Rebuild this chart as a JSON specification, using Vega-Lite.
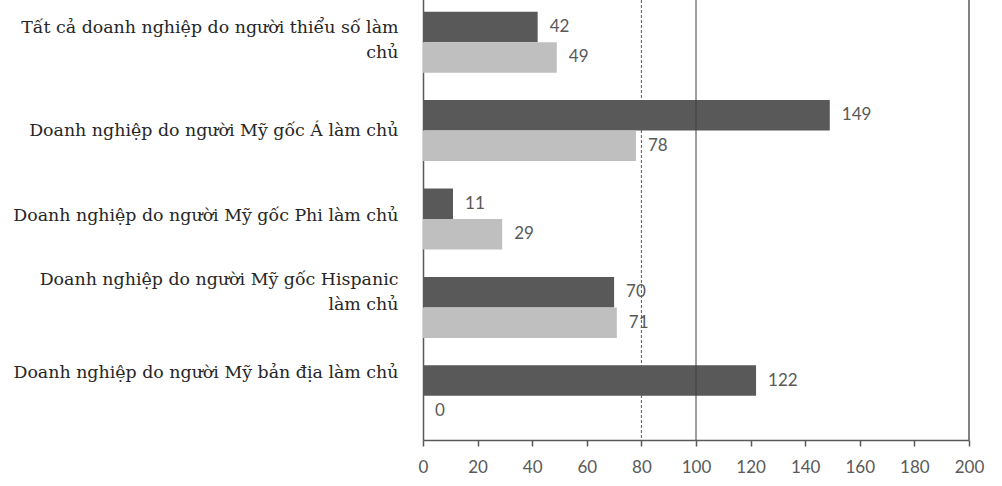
{
  "$schema": "https://vega.github.io/schema/vega-lite/v6.json",
  "width": 546,
  "height": 440,
  "autosize": {"type": "none"},
  "padding": {"left": 423, "top": 0, "right": 33, "bottom": 46},
  "background": "white",
  "config": {"view": {"stroke": null}},
  "datasets": {
    "bars": [
      {"nhom": "Tất cả doanh nghiệp do người thiểu số làm chủ", "chuoi": "Chuỗi 1", "giatri": 42},
      {"nhom": "Tất cả doanh nghiệp do người thiểu số làm chủ", "chuoi": "Chuỗi 2", "giatri": 49},
      {"nhom": "Doanh nghiệp do người Mỹ gốc Á làm chủ", "chuoi": "Chuỗi 1", "giatri": 149},
      {"nhom": "Doanh nghiệp do người Mỹ gốc Á làm chủ", "chuoi": "Chuỗi 2", "giatri": 78},
      {"nhom": "Doanh nghiệp do người Mỹ gốc Phi làm chủ", "chuoi": "Chuỗi 1", "giatri": 11},
      {"nhom": "Doanh nghiệp do người Mỹ gốc Phi làm chủ", "chuoi": "Chuỗi 2", "giatri": 29},
      {"nhom": "Doanh nghiệp do người Mỹ gốc Hispanic làm chủ", "chuoi": "Chuỗi 1", "giatri": 70},
      {"nhom": "Doanh nghiệp do người Mỹ gốc Hispanic làm chủ", "chuoi": "Chuỗi 2", "giatri": 71},
      {"nhom": "Doanh nghiệp do người Mỹ bản địa làm chủ", "chuoi": "Chuỗi 1", "giatri": 122},
      {"nhom": "Doanh nghiệp do người Mỹ bản địa làm chủ", "chuoi": "Chuỗi 2", "giatri": 0}
    ],
    "moc": [
      {"muc": 80, "kieu": "cham"},
      {"muc": 100, "kieu": "lien"},
      {"muc": 200, "kieu": "khung"}
    ]
  },
  "layer": [
    {
      "data": {"name": "bars"},
      "mark": {"type": "bar"},
      "encoding": {
        "y": {
          "field": "nhom", "type": "nominal", "sort": null, "title": null,
          "scale": {"range": [-2, 440], "paddingInner": 0.31, "paddingOuter": 0.155},
          "axis": {
            "ticks": false,
            "domainColor": "#595959",
            "domainWidth": 1.5,
            "labelFont": "DejaVu Serif",
            "labelFontSize": 17.4,
            "labelColor": "#262626",
            "labelPadding": 25,
            "labelLimit": 0,
            "labelLineHeight": 25,
            "labelExpr": "datum.label == 'Tất cả doanh nghiệp do người thiểu số làm chủ' ? ['Tất cả doanh nghiệp do người thiểu số làm', 'chủ'] : datum.label == 'Doanh nghiệp do người Mỹ gốc Hispanic làm chủ' ? ['Doanh nghiệp do người Mỹ gốc Hispanic', 'làm chủ'] : datum.label",
            "labelOffset": {
              "condition": [
                {"test": "datum.value == 'Tất cả doanh nghiệp do người thiểu số làm chủ'", "value": -14},
                {"test": "datum.value == 'Doanh nghiệp do người Mỹ gốc Phi làm chủ'", "value": -3},
                {"test": "datum.value == 'Doanh nghiệp do người Mỹ gốc Hispanic làm chủ'", "value": -27},
                {"test": "datum.value == 'Doanh nghiệp do người Mỹ bản địa làm chủ'", "value": -23}
              ],
              "value": 0
            }
          }
        },
        "yOffset": {"field": "chuoi", "type": "nominal", "sort": null, "scale": {"paddingInner": 0, "paddingOuter": 0}},
        "x": {
          "field": "giatri", "type": "quantitative", "title": null,
          "scale": {"domain": [0, 200], "nice": false},
          "axis": {
            "values": [0, 20, 40, 60, 80, 100, 120, 140, 160, 180, 200],
            "grid": false,
            "domainColor": "#595959",
            "domainWidth": 1.5,
            "tickColor": "#595959",
            "tickWidth": 1.5,
            "tickSize": 6,
            "labelFlush": false,
            "labelFont": "Lato",
            "labelFontSize": 17,
            "labelColor": "#595959",
            "labelPadding": 13
          }
        },
        "color": {
          "field": "chuoi", "type": "nominal", "sort": null, "legend": null,
          "scale": {"range": ["#595959", "#bfbfbf"]}
        }
      }
    },
    {
      "data": {"name": "bars"},
      "mark": {"type": "text", "align": "left", "baseline": "middle", "dx": 12, "font": "Lato", "fontSize": 17, "color": "#595959"},
      "encoding": {
        "y": {"field": "nhom", "type": "nominal", "sort": null},
        "yOffset": {"field": "chuoi", "type": "nominal", "sort": null},
        "x": {"field": "giatri", "type": "quantitative"},
        "text": {"field": "giatri", "type": "quantitative"}
      }
    },
    {
      "data": {"name": "moc"},
      "transform": [{"filter": "datum.kieu == 'cham'"}],
      "mark": {"type": "rule", "color": "#595959", "strokeWidth": 1, "strokeDash": [3, 2]},
      "encoding": {"x": {"field": "muc", "type": "quantitative"}}
    },
    {
      "data": {"name": "moc"},
      "transform": [{"filter": "datum.kieu == 'lien'"}],
      "mark": {"type": "rule", "color": "#404040", "strokeWidth": 1},
      "encoding": {"x": {"field": "muc", "type": "quantitative"}}
    },
    {
      "data": {"name": "moc"},
      "transform": [{"filter": "datum.kieu == 'khung'"}],
      "mark": {"type": "rule", "color": "#595959", "strokeWidth": 1.5},
      "encoding": {"x": {"field": "muc", "type": "quantitative"}}
    }
  ]
}
